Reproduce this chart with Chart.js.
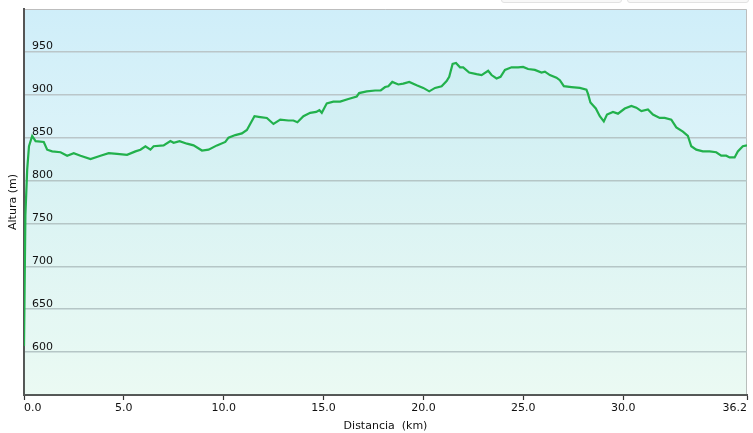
<!DOCTYPE html>
<html>
<head>
<meta charset="utf-8">
<script src="https://cdn.jsdelivr.net/npm/chart.js@4"></script>
<style>
  html, body { margin: 0; padding: 0; background: #fff; overflow: hidden; }
  #wrap { position: relative; width: 753px; height: 433px; }
  .tab { position: absolute; top: -20px; height: 21px; border: 1px solid #e2e2e2; border-radius: 3px; background: #f8f8f8; }
</style>
</head>
<body>
<div id="wrap">
  <div class="tab" style="left:501px;width:119px"></div>
  <div class="tab" style="left:627px;width:120px"></div>
  <canvas id="perfil" width="753" height="433"></canvas>
</div>
<script>
// perfil de altura
var distKm = [0, 0.07, 0.16, 0.25, 0.41, 0.58, 0.99, 1.16, 1.41, 1.83, 2.16, 2.49, 2.83, 3.33, 3.83,
  4.24, 4.66, 5.16, 5.58, 5.83, 6.08, 6.33, 6.49, 6.99, 7.33, 7.49, 7.79, 8.16, 8.49, 8.91,
  9.24, 9.66, 10.08, 10.24, 10.58, 10.91, 11.16, 11.54, 11.83, 12.16, 12.49, 12.83, 13.24, 13.49, 13.69,
  13.99, 14.33, 14.63, 14.79, 14.91, 15.16, 15.49, 15.83, 16.24, 16.66, 16.78, 17.16, 17.58, 17.86,
  18.08, 18.24, 18.44, 18.74, 18.99, 19.29, 19.66, 19.99, 20.29, 20.58, 20.91, 21.16, 21.29, 21.46,
  21.63, 21.83, 21.99, 22.29, 22.66, 22.91, 23.24, 23.41, 23.66, 23.86, 24.08, 24.41, 24.74, 24.99,
  25.24, 25.58, 25.91, 26.08, 26.33, 26.66, 26.83, 27.03, 27.41, 27.83, 28.16, 28.24, 28.36, 28.63,
  28.83, 29.03, 29.19, 29.49, 29.74, 30.08, 30.41, 30.66, 30.91, 31.24, 31.49, 31.83, 32.08, 32.41,
  32.66, 32.99, 33.24, 33.41, 33.66, 33.99, 34.33, 34.66, 34.91, 35.16, 35.33, 35.58, 35.74, 35.99, 36.2];
var altitudeM = [607, 760, 813, 840, 852, 846, 845, 836, 834, 833, 829, 832, 829, 825, 829,
  832, 831, 830, 834, 836, 840, 836, 840, 841, 846, 844, 846, 843, 841, 835,
  836, 841, 845, 850, 853, 855, 859, 875, 874, 873, 866, 871, 870, 870, 868,
  875, 879, 880, 882, 879, 890, 892, 892, 895, 898, 902, 904, 905, 905,
  909, 910, 915, 912, 913, 915, 911, 908, 904, 908, 910, 916, 921, 936,
  937, 932, 932, 926, 924, 923, 928, 923, 919, 921, 929, 932, 932, 932.5,
  930, 929, 926, 927, 923, 920, 917, 910, 909, 908, 906, 901, 891, 884,
  875, 869, 877, 880, 878, 884, 887, 885, 881, 883, 877, 873, 873, 871,
  862, 857, 852, 840, 836, 834, 834, 833, 829, 829, 827, 827, 834, 840, 841];

var xTicks = [0, 5, 10, 15, 20, 25, 30, 36.2];
var yTicks = [600, 650, 700, 750, 800, 850, 900, 950];
var yMin = 550, yMax = 1000;

var points = distKm.map(function (d, i) { return { x: d, y: altitudeM[i] }; });
var fontFam = '"DejaVu Sans", Verdana, sans-serif';

// fondo degradado y marco del area
var fondo = {
  id: 'fondo',
  beforeDraw: function (chart) {
    var a = chart.chartArea, ctx = chart.ctx;
    var g = ctx.createLinearGradient(0, a.top, 0, a.bottom);
    g.addColorStop(0, '#cfeef9');
    g.addColorStop(1, '#f3fcf8');
    ctx.save();
    ctx.fillStyle = g;
    ctx.fillRect(a.left, a.top, a.right - a.left, a.bottom - a.top);
    ctx.strokeStyle = '#bdbdbd';
    ctx.lineWidth = 1;
    ctx.beginPath();
    ctx.moveTo(a.left, a.top + 0.5);
    ctx.lineTo(a.right - 0.5, a.top + 0.5);
    ctx.lineTo(a.right - 0.5, a.bottom);
    ctx.stroke();
    ctx.restore();
  },
  // etiquetas del eje y, dentro del area y encima de la linea
  afterDatasetsDraw: function (chart) {
    var y = chart.scales.y, ctx = chart.ctx;
    ctx.save();
    ctx.font = '11px ' + fontFam;
    ctx.fillStyle = '#111';
    ctx.textAlign = 'left';
    ctx.textBaseline = 'alphabetic';
    yTicks.forEach(function (v) {
      ctx.fillText(String(v), chart.chartArea.left + 8, y.getPixelForValue(v) - 2.5);
    });
    ctx.restore();
  }
};

new Chart(document.getElementById('perfil').getContext('2d'), {
  type: 'line',
  data: {
    datasets: [{
      data: points,
      borderColor: '#22b14c',
      borderWidth: 2.2,
      backgroundColor: 'rgba(90,225,160,0.05)',
      fill: 'start',
      pointRadius: 0,
      tension: 0
    }]
  },
  options: {
    responsive: false,
    animation: false,
    layout: { padding: { top: 9, right: 6, left: 0, bottom: 0 } },
    plugins: { legend: { display: false }, tooltip: { enabled: false } },
    scales: {
      x: {
        type: 'linear',
        min: 0,
        max: 36.2,
        afterBuildTicks: function (s) { s.ticks = xTicks.map(function (v) { return { value: v }; }); },
        afterFit: function (s) { s.height = 38; },
        border: { color: '#555', width: 2 },
        grid: { drawOnChartArea: false, drawTicks: true, tickLength: 5, tickColor: '#333', tickWidth: 1.2 },
        ticks: {
          align: 'inner',
          maxRotation: 0,
          padding: 2,
          color: '#111',
          font: { family: fontFam, size: 11 },
          callback: function (v) { return Number(v).toFixed(1); }
        },
        title: {
          display: true,
          text: 'Distancia  (km)',
          color: '#111',
          font: { family: fontFam, size: 11 },
          padding: { top: 0, bottom: 0 }
        }
      },
      y: {
        min: yMin,
        max: yMax,
        afterBuildTicks: function (s) { s.ticks = yTicks.map(function (v) { return { value: v }; }); },
        afterFit: function (s) { s.width = 24; },
        border: { color: '#555', width: 2 },
        grid: { color: '#bac6c9', lineWidth: 1.5, drawTicks: false },
        ticks: { display: false },
        title: {
          display: true,
          text: 'Altura (m)',
          color: '#111',
          font: { family: fontFam, size: 11 },
          padding: { top: 7, bottom: 0 }
        }
      }
    }
  },
  plugins: [fondo]
});
</script>
</body>
</html>
